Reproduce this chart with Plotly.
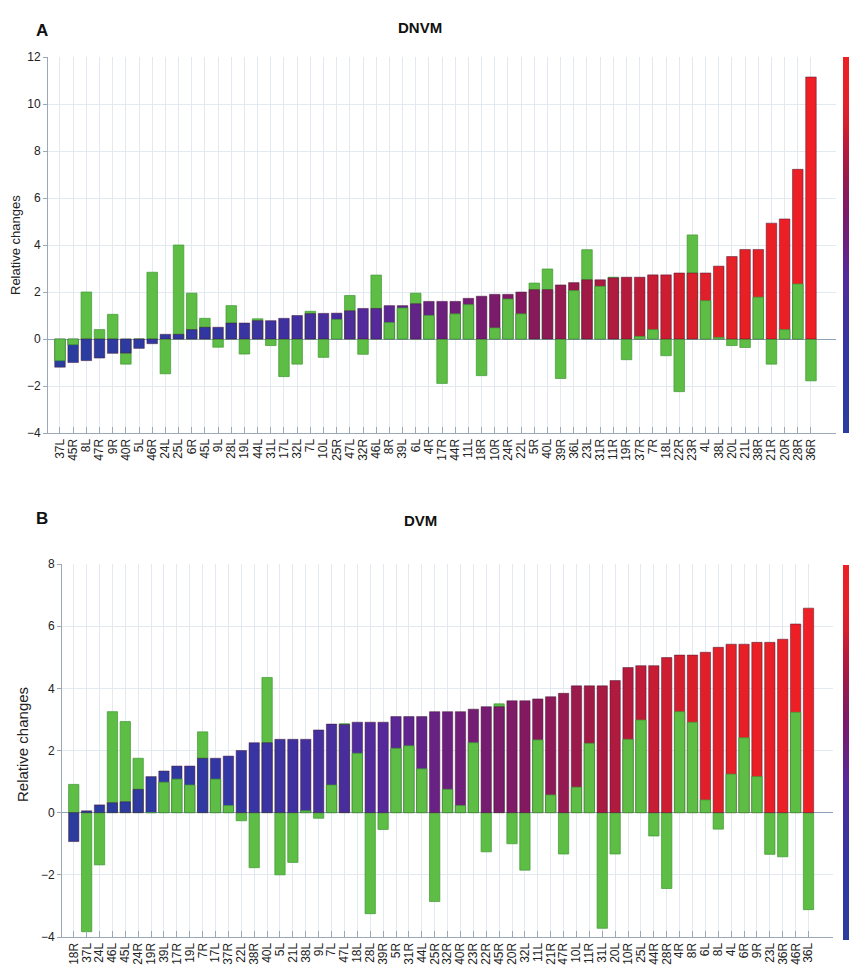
import plotly.graph_objects as go

# ---------------- Panel A: DNVM ----------------
dnvm_labels = ["37L", "45R", "8L", "47R", "9R", "40R", "5L", "46R", "24L", "25L",
               "6R", "45L", "9L", "28L", "19L", "44L", "31L", "17L", "32L", "7L",
               "10L", "25R", "47L", "32R", "46L", "8R", "39L", "6L", "4R", "17R",
               "44R", "11L", "18R", "10R", "24R", "22L", "5R", "40L", "39R", "36L",
               "23L", "31R", "11R", "19R", "37R", "7R", "18L", "22R", "23R", "4L",
               "38L", "20L", "21L", "38R", "21R", "20R", "28R", "36R"]
dnvm_main = [-1.2, -1.0, -0.92, -0.81, -0.61, -0.6, -0.4, -0.2, 0.2, 0.2,
             0.4, 0.5, 0.5, 0.68, 0.68, 0.78, 0.78, 0.88, 1.0, 1.08,
             1.09, 1.1, 1.2, 1.3, 1.3, 1.42, 1.42, 1.5, 1.6, 1.6,
             1.6, 1.73, 1.82, 1.9, 1.9, 2.0, 2.1, 2.1, 2.3, 2.4,
             2.52, 2.52, 2.6, 2.63, 2.63, 2.73, 2.73, 2.81, 2.81, 2.81,
             3.1, 3.51, 3.81, 3.81, 4.93, 5.11, 7.22, 11.15]
dnvm_green = [-0.92, -0.24, 2.0, 0.4, 1.05, -1.07, 0.0, 2.84, -1.48, 4.0,
              1.95, 0.88, -0.35, 1.42, -0.64, 0.86, -0.28, -1.6, -1.07, 1.18,
              -0.78, 0.83, 1.85, -0.65, 2.72, 0.7, 1.32, 1.95, 1.0, -1.89,
              1.07, 1.46, -1.56, 0.47, 1.7, 1.07, 2.38, 2.98, -1.68, 2.06,
              3.8, 2.24, 2.63, -0.88, 0.11, 0.4, -0.71, -2.24, 4.43, 1.63,
              0.07, -0.28, -0.36, 1.78, -1.07, 0.4, 2.34, -1.78]

# ---------------- Panel B: DVM ----------------
dvm_labels = ["18R", "37L", "24L", "46L", "45L", "24R", "19R", "39L", "17R", "19L",
              "7R", "17L", "37R", "22L", "38R", "40L", "5L", "21L", "38L", "9L",
              "7L", "47L", "18L", "28L", "39R", "5R", "31R", "44L", "25R", "32R",
              "40R", "23R", "22R", "45R", "20R", "32L", "11L", "21R", "47R", "10L",
              "11R", "31L", "20L", "10R", "25L", "44R", "28R", "4R", "8R", "6L",
              "8L", "4L", "6R", "9R", "23L", "36R", "46R", "36L"]
dvm_main = [-0.93, 0.06, 0.25, 0.32, 0.35, 0.75, 1.16, 1.34, 1.5, 1.5,
            1.75, 1.75, 1.82, 2.0, 2.25, 2.25, 2.36, 2.36, 2.36, 2.66,
            2.85, 2.84, 2.91, 2.91, 2.91, 3.09, 3.09, 3.09, 3.25, 3.25,
            3.25, 3.33, 3.41, 3.41, 3.6, 3.6, 3.66, 3.73, 3.84, 4.08,
            4.08, 4.08, 4.25, 4.67, 4.73, 4.73, 4.99, 5.07, 5.07, 5.16,
            5.32, 5.42, 5.42, 5.48, 5.48, 5.58, 6.07, 6.58]
dvm_green = [0.91, -3.83, -1.68, 3.25, 2.93, 1.75, 0.0, 0.98, 1.08, 0.89,
             2.6, 1.08, 0.23, -0.26, -1.77, 4.35, -2.0, -1.6, 0.06, -0.18,
             0.89, 2.86, 1.91, -3.25, -0.54, 2.07, 2.15, 1.41, -2.86, 0.75,
             0.23, 2.25, -1.26, 3.5, -1.0, -1.85, 2.34, 0.57, -1.33, 0.82,
             2.23, -3.72, -1.33, 2.36, 2.98, -0.75, -2.44, 3.25, 2.91, 0.41,
             -0.53, 1.24, 2.41, 1.16, -1.34, -1.42, 3.23, -3.12]

W, H = 850, 978
COLORSCALE = [[0.0, "#2a3d9f"], [0.2, "#3236a3"], [0.33, "#42309e"],
              [0.42, "#55299a"], [0.5, "#6a2180"], [0.57, "#781b6e"],
              [0.64, "#8a1a5a"], [0.7, "#a01a46"], [0.76, "#b81a3a"],
              [0.82, "#d41e2e"], [0.88, "#e42027"], [1.0, "#ee1f25"]]
GREEN = "#5dbd45"
GREEN_EDGE = "#3f9a33"
FONT = "Liberation Sans, Arial, sans-serif"

fig = go.Figure()


def add_panel(labels, main, green, xa, ya, cb_y, cb_len):
    n = len(labels)
    ranks = list(range(n))
    cb_back, cb_front, g_back, g_front = [], [], [], []
    for c, g in zip(main, green):
        same_sign = (c >= 0) == (g >= 0)
        if same_sign and abs(g) <= abs(c):
            cb_back.append(c); cb_front.append(None)
            g_back.append(None); g_front.append(g)
        else:
            cb_back.append(None); cb_front.append(c)
            g_back.append(g); g_front.append(None)
    common = dict(x=labels, width=0.8, xaxis=xa, yaxis=ya, hoverinfo="x+y",
                  showlegend=False)
    cbar = dict(x=843 / W, xanchor="left", thickness=6, len=cb_len,
                lenmode="fraction", y=cb_y, yanchor="middle", xpad=0, ypad=0,
                outlinewidth=0, showticklabels=False, ticks="")
    fig.add_trace(go.Bar(y=cb_back, marker=dict(
        color=ranks, colorscale=COLORSCALE, cmin=0, cmax=n - 1,
        showscale=True, colorbar=cbar,
        line=dict(color="rgba(70,20,50,0.7)", width=0.7)), **common))
    fig.add_trace(go.Bar(y=g_back, marker=dict(
        color=GREEN, line=dict(color=GREEN_EDGE, width=0.7)), **common))
    fig.add_trace(go.Bar(y=g_front, marker=dict(
        color=GREEN, line=dict(color=GREEN_EDGE, width=0.7)), **common))
    fig.add_trace(go.Bar(y=cb_front, marker=dict(
        color=ranks, colorscale=COLORSCALE, cmin=0, cmax=n - 1,
        showscale=False,
        line=dict(color="rgba(70,20,50,0.7)", width=0.7)), **common))


add_panel(dnvm_labels, dnvm_main, dnvm_green, "x", "y",
          1 - 245 / H, 376 / H)
add_panel(dvm_labels, dvm_main, dvm_green, "x2", "y2",
          1 - 752.5 / H, 375 / H)

GRID = "#e2e9f0"
xcommon = dict(type="category", showgrid=True, gridcolor=GRID, gridwidth=1,
               ticks="inside", ticklen=6, tickcolor="#9aa8b8", tickangle=-90,
               tickfont=dict(size=12, color="#222", family=FONT),
               showline=True, linecolor="#9aa8b8", linewidth=1,
               tickmode="linear", dtick=1, range=[-0.91, 58.9], zeroline=False,
               automargin=False)
ycommon = dict(showgrid=True, gridcolor=GRID, gridwidth=1, ticks="outside",
               ticklen=4, tickcolor="#9aa8b8",
               tickfont=dict(size=12, color="#222", family=FONT),
               showline=True, linecolor="#9aa8b8", linewidth=1,
               zeroline=True, zerolinecolor="#8fa3bb", zerolinewidth=1, dtick=2,
               automargin=False)


def label(text, px, py, size, angle=0, color="#111"):
    return dict(text=text, x=px / W, y=1 - py / H, xref="paper", yref="paper",
                xanchor="center", yanchor="middle", showarrow=False,
                textangle=angle, font=dict(size=size, family=FONT, color=color))


fig.update_layout(
    template="none",
    width=W, height=H, margin=dict(l=0, r=0, t=0, b=0, pad=0),
    autosize=False,
    paper_bgcolor="white", plot_bgcolor="white", barmode="overlay",
    bargap=0.2, font=dict(family=FONT, color="#222"),
    xaxis=dict(domain=[48 / W, 836 / W], anchor="y",
               categoryorder="array", categoryarray=dnvm_labels, **xcommon),
    yaxis=dict(domain=[1 - 433 / H, 1 - 57 / H], anchor="x",
               range=[-4, 12], **ycommon),
    xaxis2=dict(domain=[62 / W, 833 / W], anchor="y2",
                categoryorder="array", categoryarray=dvm_labels, **xcommon),
    yaxis2=dict(domain=[1 - 937 / H, 1 - 564 / H], anchor="x2",
                range=[-4, 8], **ycommon),
    annotations=[
        label("<b>A</b>", 42, 30, 17),
        label("<b>DNVM</b>", 420, 28, 15),
        label("<b>B</b>", 42, 518, 17),
        label("<b>DVM</b>", 420, 520, 15),
        label("Relative changes", 16, 245, 13, -90, "#222"),
        label("Relative changes", 22, 745, 15, -90, "#222"),
    ],
)

fig.write_html("out.html", config={"responsive": False, "displayModeBar": False},
               post_script="document.body.style.margin='0px';"
                           "document.body.style.overflow='hidden';")
